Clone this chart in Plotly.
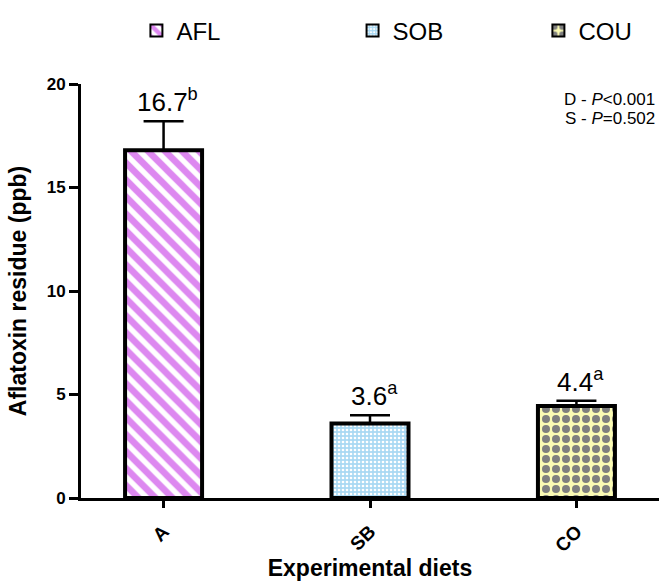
import plotly.graph_objects as go

categories = ["A", "SB", "CO"]
series_names = ["AFL", "SOB", "COU"]
values = [16.8, 3.6, 4.45]
errors = [1.4, 0.4, 0.25]
labels = ["16.7<sup>b</sup>", "3.6<sup>a</sup>", "4.4<sup>a</sup>"]
y_ticks = [0, 5, 10, 15, 20]
stats_text = ["D - <i>P</i><0.001", "S - <i>P</i>=0.502"]

patterns = [
    dict(shape="\\", fgcolor="#DD88F0", bgcolor="white", size=12, solidity=0.55, fillmode="replace"),
    dict(shape=".", fgcolor="white", bgcolor="#A9D9F3", size=4, solidity=0.35, fillmode="replace"),
    dict(shape=".", fgcolor="#7f7f7f", bgcolor="#FBFBB4", size=10, solidity=0.5, fillmode="replace"),
]
legend_ids = ["legend", "legend2", "legend3"]
legend_x = [0.207, 0.535, 0.817]

font_family = "Liberation Sans, Arial, sans-serif"
fig = go.Figure()
for i, cat in enumerate(categories):
    fig.add_trace(go.Bar(
        x=[cat], y=[values[i]], name=series_names[i], width=0.373, legend=legend_ids[i],
        marker=dict(color=patterns[i]["bgcolor"], pattern=patterns[i],
                    line=dict(color="black", width=4)),
        error_y=dict(type="data", symmetric=False, array=[errors[i]], arrayminus=[0],
                     color="black", thickness=2.5, width=20),
    ))
    fig.add_annotation(x=cat, y=values[i] + errors[i], text=labels[i], showarrow=False,
                       yanchor="bottom", yshift=2, xshift=4,
                       font=dict(size=26, color="black", family=font_family))

for j, t in enumerate(stats_text):
    fig.add_annotation(xref="paper", yref="paper", x=0.997, y=0.962 - j * 0.046, text=t,
                       showarrow=False, xanchor="right", yanchor="middle",
                       font=dict(size=17, color="black", family=font_family))

legend_layout = {}
for i, lid in enumerate(legend_ids):
    legend_layout[lid] = dict(orientation="h", xref="container", yref="container",
                              x=legend_x[i], xanchor="left", y=0.947, yanchor="middle",
                              font=dict(size=24, family=font_family), itemsizing="constant")

fig.update_layout(
    width=659, height=585, barmode="overlay", plot_bgcolor="white", paper_bgcolor="white",
    margin=dict(l=81, r=0, t=84, b=87),
    font=dict(family=font_family, color="black"),
    showlegend=True,
    **legend_layout,
    xaxis=dict(range=[-0.4, 2.4], showline=True, linecolor="black", linewidth=3,
               ticks="outside", ticklen=7, tickwidth=2.5, tickcolor="black", tickangle=-45,
               ticklabelstandoff=5,
               tickfont=dict(size=19, weight="bold"),
               title=dict(text="<b>Experimental diets</b>", font=dict(size=23), standoff=2)),
    yaxis=dict(range=[0, 20], tickvals=y_ticks, showline=True, linecolor="black", linewidth=3,
               ticks="outside", ticklen=9, tickwidth=2.5, tickcolor="black", showgrid=False,
               zeroline=False, tickfont=dict(size=17, weight="bold"),
               title=dict(text="<b>Aflatoxin residue (ppb)</b>", font=dict(size=23), standoff=14)),
)
fig.write_html("out.html", config={"displayModeBar": False},
               post_script="document.body.style.margin='0';")
